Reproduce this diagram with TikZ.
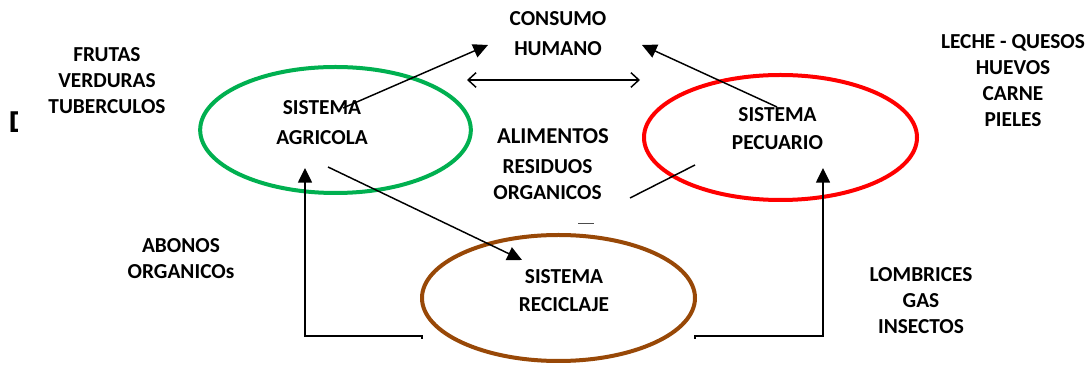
\documentclass[tikz,border=0pt]{standalone}
\usepackage{fontspec}
\setmainfont{Carlito}[BoldFont={Carlito Bold}]
\usetikzlibrary{shapes.geometric,arrows.meta}
\definecolor{agrigreen}{RGB}{0,176,80}
\definecolor{pecred}{RGB}{255,0,0}
\definecolor{recbrown}{RGB}{152,72,7}
\tikzset{
  lbl/.style={align=center,inner sep=0pt,font=\fontsize{16}{19.5}\selectfont\bfseries},
  sysell/.style={ellipse,draw,line width=3pt,inner sep=0pt},
  conn/.style={line width=1.1pt,-{Triangle[length=11pt,width=10.5pt]}},
  plain/.style={line width=1.1pt},
}
\begin{document}
\begin{tikzpicture}[x=0.75pt,y=-0.75pt]
\path[use as bounding box,fill=white] (0,0) rectangle (1090,366);
% ellipses
\node[sysell,draw=agrigreen,minimum width=203pt,minimum height=94.5pt] (agriE) at (335.5,130) {};
\node[sysell,draw=pecred,minimum width=204.75pt,minimum height=93.75pt] (pecE) at (780.5,137.5) {};
\node[sysell,draw=recbrown,minimum width=204.75pt,minimum height=94.5pt] (recE) at (558.5,298) {};
% texts
\node[lbl] (frutas) at (107,80.5) {FRUTAS\\VERDURAS\\TUBERCULOS};
\begin{scope}
\clip (0,100) rectangle (17,140);
\node[lbl,font=\fontsize{24}{28}\selectfont\bfseries,anchor=west] (dlet) at (8.5,122.5) {D};
\end{scope}
\node[lbl] (agri) at (322,122.5) {SISTEMA\\[2.5pt]AGRICOLA};
\node[lbl] (pec) at (777.5,129) {SISTEMA\\[1.5pt]PECUARIO};
\node[lbl] (rec) at (564,291) {SISTEMA\\[1.5pt]RECICLAJE};
\node[lbl] (cons) at (558,33.5) {CONSUMO\\[3.5pt]HUMANO};
\node[lbl,font=\fontsize{17}{20}\selectfont\bfseries] (alim) at (553,136) {ALIMENTOS};
\node[lbl] (resid) at (547.5,180) {RESIDUOS\\ORGANICOS};
\node[lbl] (abonos) at (181,259) {ABONOS\\ORGANICOs};
\node[lbl] (lomb) at (921,300.5) {LOMBRICES\\GAS\\INSECTOS};
\node[lbl] (leche) at (1013,80.5) {LECHE - QUESOS\\HUEVOS\\CARNE\\PIELES};
% connector end points
\coordinate (a1s) at (343,108);
\coordinate (a1e) at (488,45);
\coordinate (a2s) at (777,107);
\coordinate (a2e) at (642,45);
\coordinate (l3s) at (695,165);
\coordinate (l3e) at (630,198);
\coordinate (a4s) at (328,167);
\coordinate (a4e) at (522,260);
\coordinate (d1) at (467,80);
\coordinate (d2) at (640,80);
\coordinate (lfa) at (422,339);
\coordinate (lfb) at (422,336);
\coordinate (lfc) at (305,336);
\coordinate (lfd) at (305,168);
\coordinate (rfa) at (695,339);
\coordinate (rfb) at (695,336);
\coordinate (rfc) at (823,336);
\coordinate (rfd) at (823,168);
\coordinate (dsa) at (578,223);
\coordinate (dsb) at (594,223);
% connectors
\draw[conn] (a1s) -- (a1e);
\draw[conn] (a2s) -- (a2e);
\draw[plain] (l3s) -- (l3e);
\draw[conn] (a4s) -- (a4e);
\draw[line width=1.1pt,{Straight Barb[length=6pt,width=11pt]}-{Straight Barb[length=6pt,width=11pt]}] (d1) -- (d2);
\draw[conn] (lfa) -- (lfb) -- (lfc) -- (lfd);
\draw[conn] (rfa) -- (rfb) -- (rfc) -- (rfd);
\draw[line width=0.6pt,black!70] (dsa) -- (dsb);
\end{tikzpicture}
\end{document}
